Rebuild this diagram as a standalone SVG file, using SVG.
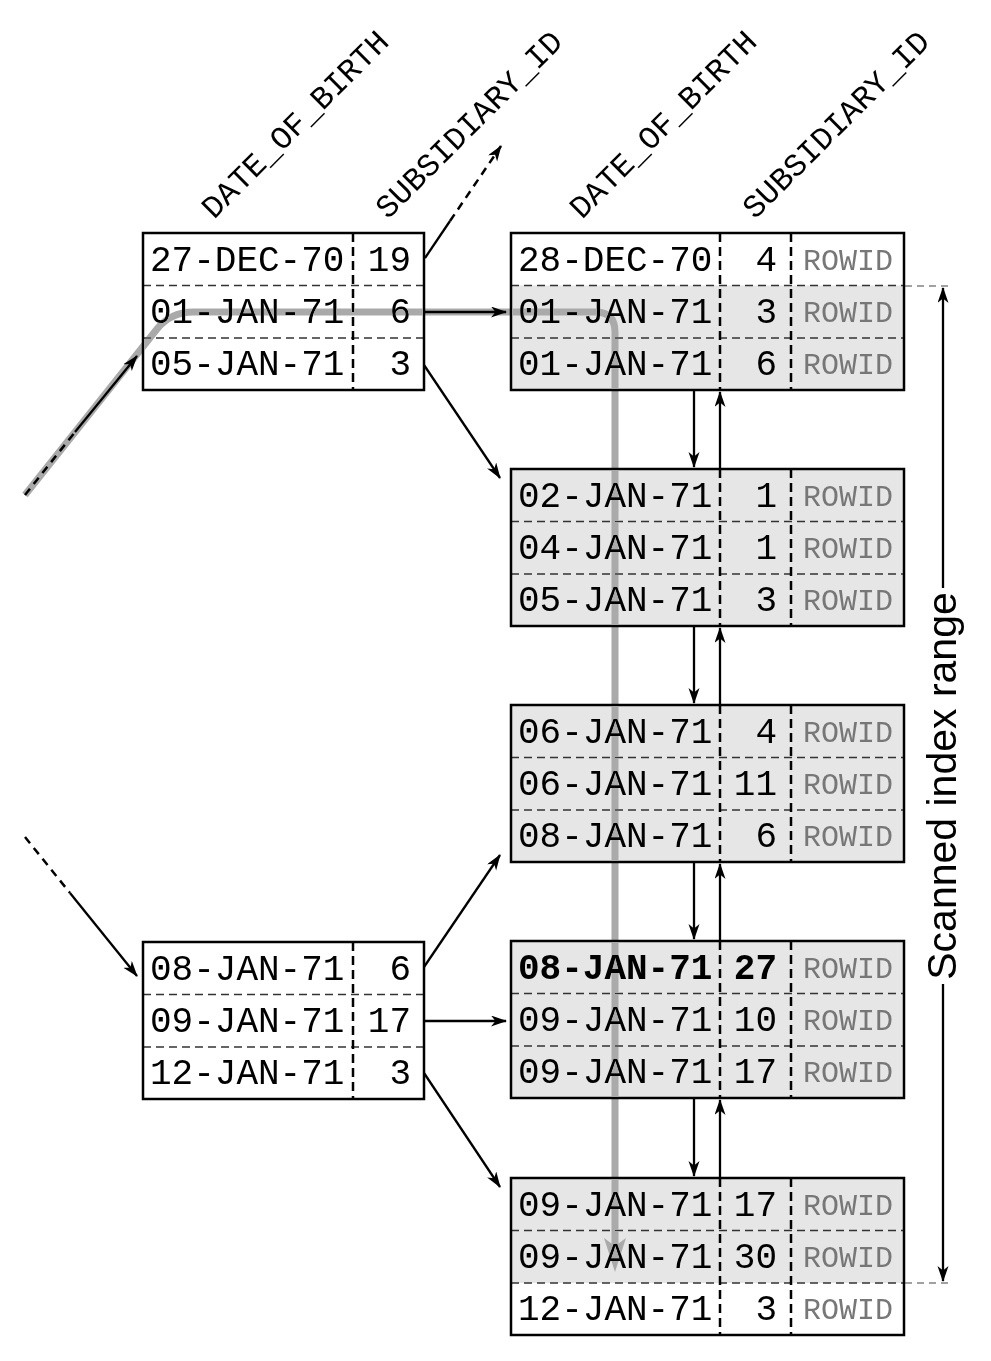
<svg xmlns="http://www.w3.org/2000/svg" width="991" height="1361" viewBox="0 0 991 1361">
<style>
.bg{fill:#fff}
.sh{fill:#e6e6e6}
.box{fill:none;stroke:#000;stroke-width:2.5}
.hd{stroke:#333;stroke-width:1.5;stroke-dasharray:8 5;fill:none}
.vd{stroke:#000;stroke-width:2.5;stroke-dasharray:9 5;fill:none}
.t{font-family:"Liberation Mono","Courier New",monospace;font-size:36px;fill:#000}
.n{text-anchor:end}
.b{font-weight:bold}
.r{font-family:"Liberation Mono","Courier New",monospace;font-size:30px;fill:#777}
.hdr{font-family:"Liberation Mono","Courier New",monospace;font-size:32px;fill:#000}
.lbl{font-family:"Liberation Sans",Arial,sans-serif;font-size:41px;fill:#000;text-anchor:middle}
.c{stroke:#000;stroke-width:2.3;fill:none}
.cd{stroke:#000;stroke-width:2.5;fill:none;stroke-dasharray:8 6}
.scan{stroke:#aaa;stroke-width:7;fill:none;mix-blend-mode:darken}
.rng{stroke:#444;stroke-width:1.2;stroke-dasharray:7 5;fill:none}
</style>
<defs>
<marker id="ah" markerUnits="userSpaceOnUse" markerWidth="18" markerHeight="12" refX="15" refY="5.5" orient="auto">
<path d="M0,0 L16,5.5 L0,11 L4.5,5.5 z" fill="#000"/>
</marker>
<marker id="gh" markerUnits="userSpaceOnUse" markerWidth="36" markerHeight="24" refX="12" refY="11" orient="auto">
<path d="M0,0 L34,11 L0,22 L8,11 z" fill="#aaa"/>
</marker>
</defs>

<!-- headers -->
<g id="headers">
<text class="hdr" transform="translate(214,220) rotate(-45)">DATE_OF_BIRTH</text>
<text class="hdr" transform="translate(388,220) rotate(-45)">SUBSIDIARY_ID</text>
<text class="hdr" transform="translate(582,220) rotate(-45)">DATE_OF_BIRTH</text>
<text class="hdr" transform="translate(755,220) rotate(-45)">SUBSIDIARY_ID</text>
</g>

<!-- branch node 1 -->
<g id="branch1">
<rect class="bg" x="143" y="233" width="281" height="157"/>
<line class="hd" x1="143" y1="285.5" x2="424" y2="285.5"/>
<line class="hd" x1="143" y1="338" x2="424" y2="338"/>
<line class="vd" x1="353" y1="233" x2="353" y2="390"/>
<rect class="box" x="143" y="233" width="281" height="157"/>
<text class="t" x="150" y="271">27-DEC-70</text>
<text class="t n" x="411" y="271">19</text>
<text class="t" x="150" y="323">01-JAN-71</text>
<text class="t n" x="411" y="323">6</text>
<text class="t" x="150" y="375">05-JAN-71</text>
<text class="t n" x="411" y="375">3</text>
</g>

<!-- branch node 2 -->
<g id="branch2">
<rect class="bg" x="143" y="942" width="281" height="157"/>
<line class="hd" x1="143" y1="994.5" x2="424" y2="994.5"/>
<line class="hd" x1="143" y1="1047" x2="424" y2="1047"/>
<line class="vd" x1="353" y1="942" x2="353" y2="1099"/>
<rect class="box" x="143" y="942" width="281" height="157"/>
<text class="t" x="150" y="980">08-JAN-71</text>
<text class="t n" x="411" y="980">6</text>
<text class="t" x="150" y="1032">09-JAN-71</text>
<text class="t n" x="411" y="1032">17</text>
<text class="t" x="150" y="1084">12-JAN-71</text>
<text class="t n" x="411" y="1084">3</text>
</g>

<!-- leaf 1 -->
<g id="leaf1">
<rect class="bg" x="511" y="233" width="393" height="157"/>
<rect class="sh" x="511" y="285.5" width="393" height="104.5"/>
<line class="hd" x1="511" y1="285.5" x2="904" y2="285.5"/>
<line class="hd" x1="511" y1="338" x2="904" y2="338"/>
<line class="vd" x1="720" y1="233" x2="720" y2="390"/>
<line class="vd" x1="791" y1="233" x2="791" y2="390"/>
<rect class="box" x="511" y="233" width="393" height="157"/>
<text class="t" x="518" y="271">28-DEC-70</text><text class="t n" x="777" y="271">4</text><text class="r" x="803" y="270">ROWID</text>
<text class="t" x="518" y="323">01-JAN-71</text><text class="t n" x="777" y="323">3</text><text class="r" x="803" y="322">ROWID</text>
<text class="t" x="518" y="375">01-JAN-71</text><text class="t n" x="777" y="375">6</text><text class="r" x="803" y="374">ROWID</text>
</g>

<!-- leaf 2 -->
<g id="leaf2">
<rect class="sh" x="511" y="469" width="393" height="157"/>
<line class="hd" x1="511" y1="521.5" x2="904" y2="521.5"/>
<line class="hd" x1="511" y1="574" x2="904" y2="574"/>
<line class="vd" x1="720" y1="469" x2="720" y2="626"/>
<line class="vd" x1="791" y1="469" x2="791" y2="626"/>
<rect class="box" x="511" y="469" width="393" height="157"/>
<text class="t" x="518" y="507">02-JAN-71</text><text class="t n" x="777" y="507">1</text><text class="r" x="803" y="506">ROWID</text>
<text class="t" x="518" y="559">04-JAN-71</text><text class="t n" x="777" y="559">1</text><text class="r" x="803" y="558">ROWID</text>
<text class="t" x="518" y="611">05-JAN-71</text><text class="t n" x="777" y="611">3</text><text class="r" x="803" y="610">ROWID</text>
</g>

<!-- leaf 3 -->
<g id="leaf3">
<rect class="sh" x="511" y="705" width="393" height="157"/>
<line class="hd" x1="511" y1="757.5" x2="904" y2="757.5"/>
<line class="hd" x1="511" y1="810" x2="904" y2="810"/>
<line class="vd" x1="720" y1="705" x2="720" y2="862"/>
<line class="vd" x1="791" y1="705" x2="791" y2="862"/>
<rect class="box" x="511" y="705" width="393" height="157"/>
<text class="t" x="518" y="743">06-JAN-71</text><text class="t n" x="777" y="743">4</text><text class="r" x="803" y="742">ROWID</text>
<text class="t" x="518" y="795">06-JAN-71</text><text class="t n" x="777" y="795">11</text><text class="r" x="803" y="794">ROWID</text>
<text class="t" x="518" y="847">08-JAN-71</text><text class="t n" x="777" y="847">6</text><text class="r" x="803" y="846">ROWID</text>
</g>

<!-- leaf 4 -->
<g id="leaf4">
<rect class="sh" x="511" y="941" width="393" height="157"/>
<line class="hd" x1="511" y1="993.5" x2="904" y2="993.5"/>
<line class="hd" x1="511" y1="1046" x2="904" y2="1046"/>
<line class="vd" x1="720" y1="941" x2="720" y2="1098"/>
<line class="vd" x1="791" y1="941" x2="791" y2="1098"/>
<rect class="box" x="511" y="941" width="393" height="157"/>
<text class="t b" x="518" y="979">08-JAN-71</text><text class="t n b" x="777" y="979">27</text><text class="r" x="803" y="978">ROWID</text>
<text class="t" x="518" y="1031">09-JAN-71</text><text class="t n" x="777" y="1031">10</text><text class="r" x="803" y="1030">ROWID</text>
<text class="t" x="518" y="1083">09-JAN-71</text><text class="t n" x="777" y="1083">17</text><text class="r" x="803" y="1082">ROWID</text>
</g>

<!-- leaf 5 -->
<g id="leaf5">
<rect class="bg" x="511" y="1178" width="393" height="157"/>
<rect class="sh" x="511" y="1178" width="393" height="105"/>
<line class="hd" x1="511" y1="1230.5" x2="904" y2="1230.5"/>
<line class="hd" x1="511" y1="1283" x2="904" y2="1283"/>
<line class="vd" x1="720" y1="1178" x2="720" y2="1335"/>
<line class="vd" x1="791" y1="1178" x2="791" y2="1335"/>
<rect class="box" x="511" y="1178" width="393" height="157"/>
<text class="t" x="518" y="1216">09-JAN-71</text><text class="t n" x="777" y="1216">17</text><text class="r" x="803" y="1215">ROWID</text>
<text class="t" x="518" y="1268">09-JAN-71</text><text class="t n" x="777" y="1268">30</text><text class="r" x="803" y="1267">ROWID</text>
<text class="t" x="518" y="1320">12-JAN-71</text><text class="t n" x="777" y="1320">3</text><text class="r" x="803" y="1319">ROWID</text>
</g>

<!-- scan path (drawn with darken so text and lines stay visible through it) -->
<g id="scan-path">
<path class="scan" d="M25,495 L157,329 Q171,312 193,312 L595,312 Q615,312 615,332 L615,1250" marker-end="url(#gh)"/>
</g>

<!-- connectors -->
<g id="connectors">
<path class="c" d="M425,258 L450,221"/>
<path class="cd" d="M450,221 L501,146" marker-end="url(#ah)"/>
<path class="c" d="M424,312 L506,312" marker-end="url(#ah)"/>
<path class="c" d="M424,365 L500,478" marker-end="url(#ah)"/>
<path class="cd" d="M25,495 L75,432"/>
<path class="c" d="M75,432 L137,356" marker-end="url(#ah)"/>

<path class="cd" d="M25,837 L70,893"/>
<path class="c" d="M70,893 L137,976" marker-end="url(#ah)"/>
<path class="c" d="M424,967 L500,855" marker-end="url(#ah)"/>
<path class="c" d="M424,1021 L506,1021" marker-end="url(#ah)"/>
<path class="c" d="M424,1073 L500,1187" marker-end="url(#ah)"/>

<path class="c" d="M694,390 L694,467" marker-end="url(#ah)"/>
<path class="c" d="M720,469 L720,392" marker-end="url(#ah)"/>
<path class="c" d="M694,626 L694,703" marker-end="url(#ah)"/>
<path class="c" d="M720,705 L720,628" marker-end="url(#ah)"/>
<path class="c" d="M694,862 L694,939" marker-end="url(#ah)"/>
<path class="c" d="M720,941 L720,864" marker-end="url(#ah)"/>
<path class="c" d="M694,1098 L694,1176" marker-end="url(#ah)"/>
<path class="c" d="M720,1178 L720,1100" marker-end="url(#ah)"/>
</g>

<!-- scanned index range -->
<g id="range">
<line class="rng" x1="905" y1="286" x2="950" y2="286"/>
<line class="rng" x1="905" y1="1283" x2="950" y2="1283"/>
<path class="c" d="M943,588 L943,288" marker-end="url(#ah)"/>
<path class="c" d="M943,984 L943,1281" marker-end="url(#ah)"/>
<text class="lbl" transform="translate(956,786) rotate(-90)">Scanned index range</text>
</g>
</svg>
